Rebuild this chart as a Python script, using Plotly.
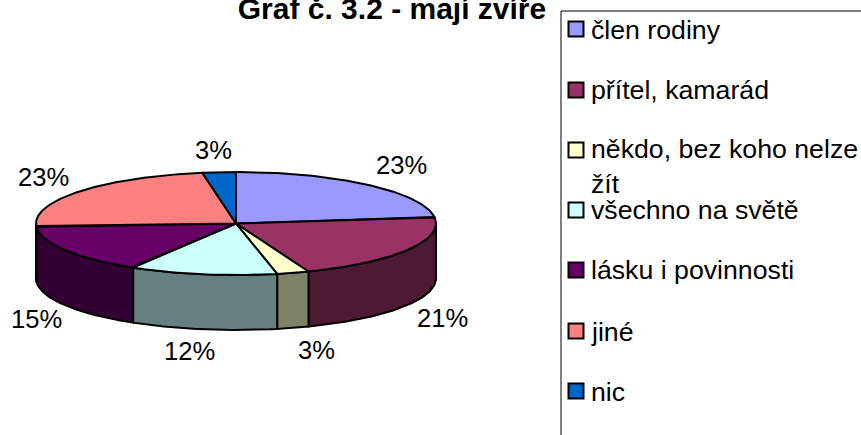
import numpy as np
import plotly.graph_objects as go

categories = ["člen rodiny", "přítel, kamarád", "někdo, bez koho nelze<br>žít", "všechno na světě",
              "lásku i povinnosti", "jiné", "nic"]
values = [23.0, 21.1, 2.6, 11.9, 15.4, 23.3, 2.7]
colors = ["#9999FF", "#993366", "#FFFFCC", "#CCFFFF", "#660066", "#FF8080", "#0066CC"]
wall_colors = ["#4D4D80", "#4D1A33", "#808066", "#668080", "#330033", "#804040", "#003366"]
label_dx = [33, 35, 23, -13, -29, -36, -6]
label_dy = [-20, 13, 22, 22, 14, -15, -22]
label_on_wall = [False, True, True, True, True, False, False]

CX, CY, RX, RY, DEPTH = 236, 223.5, 200, 51.5, 55
W, H = 861, 435
LINE = 2
FS_LABEL = 25.6
FS_LEGEND = 26.7


def pt(angle_deg, drop=0):
    a = np.radians(angle_deg)
    return CX + RX * np.sin(a), CY - RY * np.cos(a) + drop


fig = go.Figure()
total = sum(values)
edges = np.cumsum([0] + values) / total * 360

# side walls (front half only)
for i in range(len(values)):
    start, end = max(edges[i], 90), min(edges[i + 1], 270)
    if end <= start:
        continue
    t = np.linspace(start, end, 80)
    xt, yt = pt(t)
    xb, yb = pt(t[::-1], DEPTH)
    fig.add_trace(go.Scatter(
        x=np.r_[xt, xb, xt[0]], y=np.r_[yt, yb, yt[0]], mode="lines", fill="toself",
        fillcolor=wall_colors[i], line=dict(color="black", width=LINE), hoverinfo="skip", showlegend=False))

# top wedges
for i in range(len(values)):
    t = np.linspace(edges[i], edges[i + 1], 120)
    xt, yt = pt(t)
    fig.add_trace(go.Scatter(
        x=np.r_[CX, xt, CX], y=np.r_[CY, yt, CY], mode="lines", fill="toself",
        fillcolor=colors[i], line=dict(color="black", width=LINE),
        name=categories[i].replace("<br>", " "), text=f"{values[i]:.0f}%", hoverinfo="name+text", showlegend=False))

# percentage labels
for i, v in enumerate(values):
    mid = (edges[i] + edges[i + 1]) / 2
    x, y = pt(mid, DEPTH if label_on_wall[i] else 0)
    fig.add_annotation(x=x, y=y, text=f"{v:.0f}%", showarrow=False, xshift=label_dx[i], yshift=-label_dy[i],
                       font=dict(size=FS_LABEL, color="black"))

# legend
legend_y = [29, 90, 150, 210, 270, 331, 391]
legend_text_y = [30, 90, 166, 210, 270, 332, 392]
fig.add_trace(go.Scatter(
    x=[576] * 7, y=legend_y, mode="markers",
    marker=dict(symbol="square", size=15, color=colors, line=dict(color="black", width=2)),
    hoverinfo="skip", showlegend=False))
for name, y in zip(categories, legend_text_y):
    fig.add_annotation(x=589, y=y, text=name, xanchor="left", showarrow=False, align="left",
                       font=dict(size=FS_LEGEND, color="black"))

fig.add_shape(type="line", x0=561, x1=861, y0=11, y1=11, line=dict(color="black", width=1))
fig.add_shape(type="line", x0=561, x1=561, y0=11, y1=435, line=dict(color="black", width=1))

fig.update_layout(
    width=W, height=H, margin=dict(l=0, r=0, t=0, b=0),
    paper_bgcolor="white", plot_bgcolor="white",
    font=dict(family="Liberation Sans, Arial, sans-serif"),
    title=dict(text="<b>Graf č. 3.2 - mají zvíře</b>", x=392 / W, xanchor="center",
               y=0.98, yanchor="middle", font=dict(size=30, color="black")),
    xaxis=dict(range=[0, W], visible=False, fixedrange=True),
    yaxis=dict(range=[H, 0], visible=False, fixedrange=True),
)
fig.write_html("out.html", config={"displayModeBar": False},
               post_script="document.body.style.margin='0';document.body.style.overflow='hidden';")
